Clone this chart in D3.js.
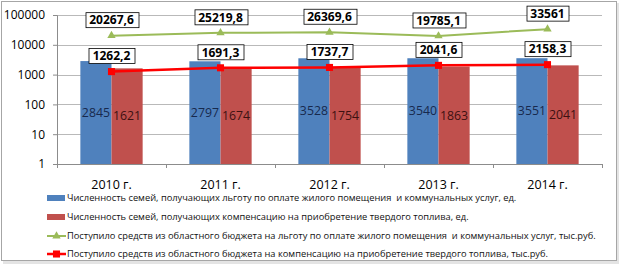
<!DOCTYPE html>
<html>
<head>
<meta charset="utf-8">
<script src="https://cdn.jsdelivr.net/npm/d3@7"></script>
<style>
  body { margin: 0; background: #fff; }
  svg text { font-family: "Open Sans", "Noto Sans", sans-serif; }
  .grid line { stroke: #b9b9b9; }
  .axis path, .axis line { stroke: #8c8c8c; }
  .axis text { fill: #000; font-size: 11.5px; }
  .legend-text { white-space: pre; }
</style>
</head>
<body>
<svg id="chart"></svg>
<script>
// --- data ---
const years = ["2010 г.", "2011 г.", "2012 г.", "2013 г.", "2014 г."];
const familiesBenefit = [2845, 2797, 3528, 3540, 3551];
const familiesFuel = [1621, 1674, 1754, 1863, 2041];
const fundsBenefit = [20267.6, 25219.8, 26369.6, 19785.1, 33561];
const fundsFuel = [1262.2, 1691.3, 1737.7, 2041.6, 2158.3];
const yTicks = [1, 10, 100, 1000, 10000, 100000];
const legendLabels = [
  "Численность семей, получающих льготу по оплате жилого помещения  и коммунальных услуг, ед.",
  "Численность семей, получающих компенсацию на приобретение твердого топлива, ед.",
  "Поступило средств из областного бюджета на льготу по оплате жилого помещения  и коммунальных услуг, тыс.руб.",
  "Поступило средств из областного бюджета на компенсацию на приобретение твердого топлива, тыс.руб."
];

const config = {
  width: 623,
  height: 268,
  margin: {top: 15, left: 57, right: 21, bottom: 104},
  colors: {bar1: "#4F81BD", bar2: "#C0504D", line1: "#9BBB59", line2: "#FF0000"}
};

const innerW = config.width - config.margin.left - config.margin.right;
const innerH = config.height - config.margin.top - config.margin.bottom;

const svg = d3.select("#chart")
  .attr("width", config.width)
  .attr("height", config.height);

// outer frame with a soft shadow
svg.append("rect")
  .attr("x", 3).attr("y", 3)
  .attr("width", 616).attr("height", 261)
  .attr("fill", "#e4e4e4");
svg.append("rect")
  .attr("x", 1.5).attr("y", 1.5)
  .attr("width", 615).attr("height", 259)
  .attr("fill", "#fff")
  .attr("stroke", "#a6a6a6");

const chart = svg.append("g")
  .attr("transform", `translate(${config.margin.left},${config.margin.top})`);

// scales
const x = d3.scaleBand().domain(years).range([0, innerW]).padding(0);
const y = d3.scaleLog().domain([1, 100000]).range([innerH, 0]);
const barW = x.bandwidth() / 3.5;
const cx = d => x(d) + x.bandwidth() / 2;

// gridlines
chart.append("g")
  .attr("class", "grid")
  .selectAll("line")
  .data(yTicks.slice(1))
  .join("line")
  .attr("x1", 0).attr("x2", innerW)
  .attr("y1", d => Math.round(y(d)) + 0.5)
  .attr("y2", d => Math.round(y(d)) + 0.5);

// y axis
const yAxisG = chart.append("g")
  .attr("class", "axis")
  .call(d3.axisLeft(y).tickValues(yTicks).tickFormat(d3.format("d")).tickSize(4).tickPadding(8));
yAxisG.selectAll("text").style("font-size", "12px");

// x axis: line with ticks on category edges
const xAxisG = chart.append("g")
  .attr("class", "axis")
  .attr("transform", `translate(0,${innerH})`);
xAxisG.append("line")
  .attr("x1", 0).attr("x2", innerW)
  .attr("y1", 0.5).attr("y2", 0.5);
xAxisG.selectAll(".edge")
  .data(d3.range(years.length + 1))
  .join("line")
  .attr("class", "edge")
  .attr("x1", i => Math.round(i * x.step()) + 0.5)
  .attr("x2", i => Math.round(i * x.step()) + 0.5)
  .attr("y1", 0).attr("y2", 4);
xAxisG.selectAll(".cat")
  .data(years)
  .join("text")
  .attr("class", "cat")
  .attr("x", d => cx(d))
  .attr("y", 25)
  .attr("text-anchor", "middle")
  .style("font-size", "12.5px")
  .text(d => d);

// bars
const barSeries = [
  {values: familiesBenefit, color: config.colors.bar1, offset: -1, textColor: "#17294d"},
  {values: familiesFuel, color: config.colors.bar2, offset: 0, textColor: "#3d1111"}
];
barSeries.forEach(s => {
  const g = chart.append("g");
  g.selectAll("rect")
    .data(years)
    .join("rect")
    .attr("x", (d) => cx(d) + s.offset * barW)
    .attr("width", barW)
    .attr("y", (d, i) => y(s.values[i]))
    .attr("height", (d, i) => innerH - y(s.values[i]))
    .attr("fill", s.color);
  g.selectAll("text")
    .data(years)
    .join("text")
    .attr("x", (d) => cx(d) + s.offset * barW + barW / 2)
    .attr("y", (d, i) => (y(s.values[i]) + innerH) / 2)
    .attr("dy", "0.35em")
    .attr("text-anchor", "middle")
    .attr("fill", s.textColor)
    .style("font-size", "12.3px")
    .text((d, i) => s.values[i]);
});

// lines
const fmt = v => String(v).replace(".", ",");
const lineSeries = [
  {values: fundsBenefit, color: config.colors.line1, width: 2, marker: d3.symbolTriangle, size: 30},
  {values: fundsFuel, color: config.colors.line2, width: 2.5, marker: d3.symbolSquare, size: 50}
];
lineSeries.forEach(s => {
  const pts = years.map((d, i) => [cx(d), y(s.values[i])]);
  chart.append("path")
    .attr("d", d3.line()(pts))
    .attr("fill", "none")
    .attr("stroke", s.color)
    .attr("stroke-width", s.width);
  chart.append("g").selectAll("path")
    .data(pts)
    .join("path")
    .attr("transform", p => `translate(${p[0]},${p[1]})`)
    .attr("d", d3.symbol(s.marker, s.size))
    .attr("fill", s.color);

  // boxed value labels
  const lab = chart.append("g").selectAll("g")
    .data(pts)
    .join("g")
    .attr("transform", p => `translate(${p[0]},${p[1] - 15.5})`);
  lab.append("rect");
  lab.append("text")
    .attr("text-anchor", "middle")
    .attr("dy", "0.36em")
    .style("font-size", "12px")
    .style("font-weight", "bold")
    .text((p, i) => fmt(s.values[i]));
  lab.each(function() {
    const t = d3.select(this).select("text").node().getBBox();
    d3.select(this).select("rect")
      .attr("x", Math.round(-t.width / 2 - 4) + 0.5)
      .attr("y", -7.5)
      .attr("width", Math.round(t.width + 8))
      .attr("height", 15)
      .attr("fill", "#fff")
      .attr("stroke", "#000")
      .attr("stroke-width", 0.8);
  });
});

// legend
const legend = svg.append("g").attr("transform", "translate(47,0)");
const legendY = [198, 217, 236, 254];
const rows = legend.selectAll("g")
  .data(legendLabels)
  .join("g")
  .attr("transform", (d, i) => `translate(0,${legendY[i]})`);
rows.each(function(d, i) {
  const g = d3.select(this);
  if (i < 2) {
    g.append("rect")
      .attr("x", 0).attr("y", -3)
      .attr("width", 18).attr("height", 6)
      .attr("fill", i === 0 ? config.colors.bar1 : config.colors.bar2);
  } else {
    const s = lineSeries[i - 2];
    g.append("line")
      .attr("x1", 0).attr("x2", 19)
      .attr("stroke", s.color)
      .attr("stroke-width", s.width);
    g.append("path")
      .attr("transform", "translate(9.5,0)")
      .attr("d", d3.symbol(s.marker, s.size))
      .attr("fill", s.color);
  }
  g.append("text")
    .attr("class", "legend-text")
    .attr("x", 20)
    .attr("dy", "0.35em")
    .style("font-size", "9.3px")
    .attr("fill", "#111")
    .text(d);
});
</script>
</body>
</html>
